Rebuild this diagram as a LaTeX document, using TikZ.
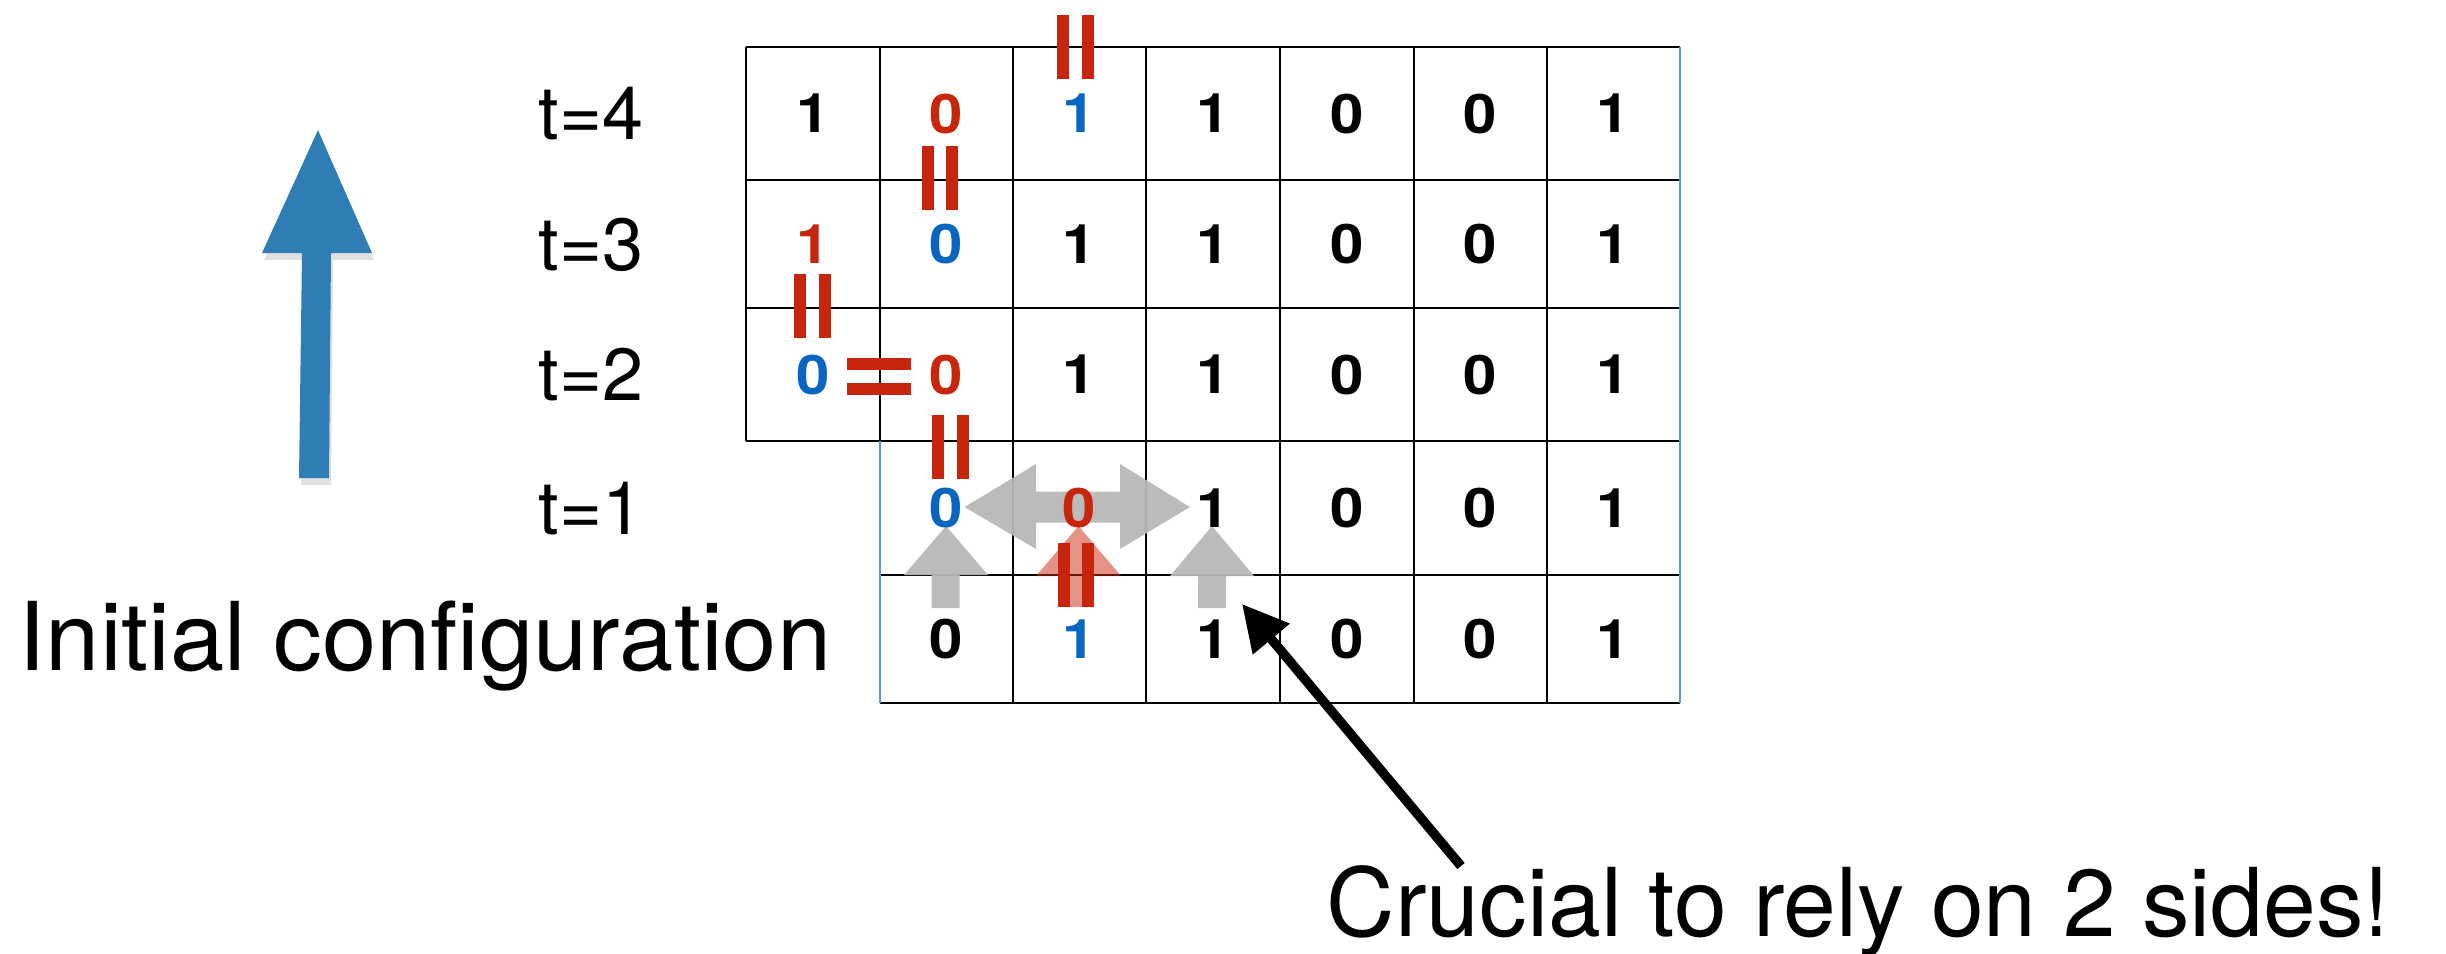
\documentclass[tikz,border=0pt]{standalone}
\usepackage{fontspec}
\usepackage{graphicx}
\setmainfont{TeX Gyre Heros}
\usetikzlibrary{arrows.meta}
\definecolor{mred}{RGB}{200,38,12}
\definecolor{mblue}{RGB}{8,102,192}
\definecolor{abl}{RGB}{46,125,181}
\definecolor{lblue}{RGB}{80,160,215}
\definecolor{agray}{RGB}{183,183,183}
\newcommand\dg[1]{\scalebox{1.1}[1]{#1}}
\newcommand\eqvert[2]{%
  \fill[mred] ({#1-18.3},{#2-32}) rectangle ({#1-6.3},{#2+32});
  \fill[mred] ({#1+6.3},{#2-32}) rectangle ({#1+18.3},{#2+32});}
\newcommand\eqhorz[2]{%
  \fill[mred] ({#1-32},{#2-18.3}) rectangle ({#1+32},{#2-6.3});
  \fill[mred] ({#1-32},{#2+6.3}) rectangle ({#1+32},{#2+18.3});}
\begin{document}
\begin{tikzpicture}[x=0.01cm,y=-0.01cm,
  dig/.style={inner sep=0pt, font=\fontsize{15.5pt}{18pt}\selectfont\bfseries},
  tlab/.style={anchor=base west, inner sep=0pt, font=\fontsize{21pt}{25pt}\selectfont},
  big/.style={anchor=base west, inner sep=0pt, font=\fontsize{27pt}{32pt}\selectfont},
  gl/.style={line width=0.75pt, black},
  bl/.style={line width=0.5pt, lblue},
  garrow/.style={fill=agray, opacity=0.95},
  rarrow/.style={fill=mred, opacity=0.5},
]
\useasboundingbox (0,0) rectangle (2446,953);

% blue time arrow
\fill[black, opacity=0.12] (319,137) -- (374,260) -- (333,260) -- (331,485) -- (301,485) -- (304,260) -- (264,260) -- cycle;
\fill[abl] (318,130) -- (372,253) -- (331,253) -- (329,478) -- (299,478) -- (302,253) -- (262,253) -- cycle;

% time labels
\node[tlab] (t4) at (538,139.5) {t=4};
\node[tlab] (t3) at (538,270) {t=3};
\node[tlab] (t2) at (538,400.5) {t=2};
\node[tlab] (t1) at (538,534) {t=1};

\node[big] (init) at (18,670) {\scalebox{1.027}[1]{Initial configuration}};
\node[big] (crucial) at (1326,936) {Crucial to rely on 2 sides!};

% grid
\foreach \y in {47,180,308,441} \draw[gl] (746,\y) -- (1680,\y);
\foreach \y in {575,703} \draw[gl] (880,\y) -- (1680,\y);
\draw[gl] (746,47) -- (746,441);
\draw[gl] (880,47) -- (880,441);
\draw[bl] (880,441) -- (880,703);
\foreach \x in {1013,1146,1280,1414,1547} \draw[gl] (\x,47) -- (\x,703);
\draw[bl] (1680,47) -- (1680,703);

% gray / red arrows
\fill[garrow] (964.5,507) -- (1036,464) -- (1036,491.5) -- (1120,491.5) -- (1120,464) -- (1190,507)
  -- (1120,549) -- (1120,522.5) -- (1036,522.5) -- (1036,549) -- cycle;
\fill[garrow] (946,526) -- (988,575) -- (959.5,575) -- (959.5,608) -- (931.5,608) -- (931.5,575) -- (904,575) -- cycle;
\fill[garrow] (1212,526) -- (1254,576) -- (1226,576) -- (1226,608) -- (1198,608) -- (1198,576) -- (1170,576) -- cycle;
\fill[rarrow] (1078.5,526) -- (1121,576) -- (1093,576) -- (1093,607) -- (1064,607) -- (1064,576) -- (1036,576) -- cycle;

% equality markers
\eqvert{1075.5}{47}
\eqvert{940}{177.5}
\eqvert{812.5}{306}
\eqhorz{879}{376.5}
\eqvert{950.5}{446.5}
\eqvert{1076}{575}

% digits t=4
\node[dig] (a0) at (813,113.5) {\dg{1}};
\node[dig, text=mred] (a1) at (946.5,113.5) {\dg{0}};
\node[dig, text=mblue] (a2) at (1079.5,113.5) {\dg{1}};
\node[dig] (a3) at (1213,113.5) {\dg{1}};
\node[dig] (a4) at (1347,113.5) {\dg{0}};
\node[dig] (a5) at (1480.5,113.5) {\dg{0}};
\node[dig] (a6) at (1613.5,113.5) {\dg{1}};
% t=3
\node[dig, text=mred] (b0) at (813,244) {\dg{1}};
\node[dig, text=mblue] (b1) at (946.5,244) {\dg{0}};
\node[dig] (b2) at (1079.5,244) {\dg{1}};
\node[dig] (b3) at (1213,244) {\dg{1}};
\node[dig] (b4) at (1347,244) {\dg{0}};
\node[dig] (b5) at (1480.5,244) {\dg{0}};
\node[dig] (b6) at (1613.5,244) {\dg{1}};
% t=2
\node[dig, text=mblue] (c0) at (813,374.5) {\dg{0}};
\node[dig, text=mred] (c1) at (946.5,374.5) {\dg{0}};
\node[dig] (c2) at (1079.5,374.5) {\dg{1}};
\node[dig] (c3) at (1213,374.5) {\dg{1}};
\node[dig] (c4) at (1347,374.5) {\dg{0}};
\node[dig] (c5) at (1480.5,374.5) {\dg{0}};
\node[dig] (c6) at (1613.5,374.5) {\dg{1}};
% t=1
\node[dig, text=mblue] (d1) at (946.5,508) {\dg{0}};
\node[dig, text=mred] (d2) at (1079.5,508) {\dg{0}};
\node[dig] (d3) at (1213,508) {\dg{1}};
\node[dig] (d4) at (1347,508) {\dg{0}};
\node[dig] (d5) at (1480.5,508) {\dg{0}};
\node[dig] (d6) at (1613.5,508) {\dg{1}};
% initial
\node[dig] (e1) at (946.5,639) {\dg{0}};
\node[dig, text=mblue] (e2) at (1079.5,639) {\dg{1}};
\node[dig] (e3) at (1213,639) {\dg{1}};
\node[dig] (e4) at (1347,639) {\dg{0}};
\node[dig] (e5) at (1480.5,639) {\dg{0}};
\node[dig] (e6) at (1613.5,639) {\dg{1}};

% pointer arrow
\coordinate (ctail) at (1461,866);
\coordinate (ctip) at (1242,604);
\draw[line width=2.7pt, -{Triangle[length=13pt, width=13pt]}] (ctail) -- (ctip);
\end{tikzpicture}
\end{document}
